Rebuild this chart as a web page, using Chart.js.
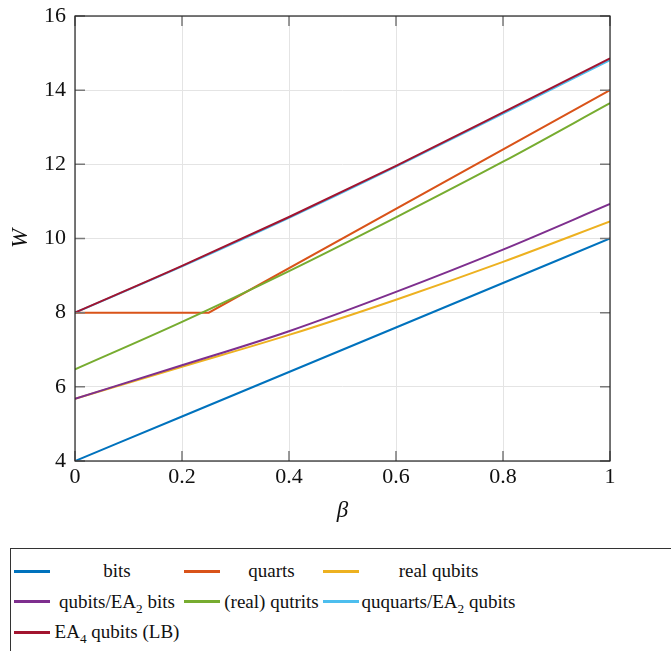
<!DOCTYPE html>
<html>
<head>
<meta charset="utf-8">
<script src="https://cdn.jsdelivr.net/npm/chart.js@4"></script>
<style>
  html, body { margin: 0; padding: 0; background: #fff; }
  #wrap { position: relative; width: 671px; height: 540px; }
  #legend {
    position: absolute; left: 10px; top: 548px; width: 720px; height: 130px;
    border: 1px solid #333; box-sizing: border-box;
    padding: 7px 0 0 3px;
    font-family: "Liberation Serif", serif; font-size: 19px; color: #111;
    display: grid; grid-template-columns: 170px 139px 195px; grid-auto-rows: 30.5px;
  }
  .item { display: flex; align-items: center; }
  .swatch { width: 36px; height: 3px; flex: none; }
  .txt { flex: 1; text-align: center; white-space: nowrap; }
  .txt sub { font-size: 70%; line-height: 0; }
</style>
</head>
<body>
<div id="wrap"><canvas id="c"></canvas></div>
<div id="legend"></div>
<script>
const beta = [0, 0.2, 0.4, 0.6, 0.8, 1];
const betaQuarts = [0, 0.25, 1];

const bits = [4, 5.2, 6.4, 7.6, 8.8, 10];
const quarts = [8, 8, 14];
const realQubits = [5.68, 6.54, 7.40, 8.35, 9.37, 10.46];
const qubitsEA2 = [5.68, 6.58, 7.50, 8.56, 9.70, 10.93];
const realQutrits = [6.47, 7.75, 9.12, 10.57, 12.07, 13.65];
const ququartsEA2 = [8, 9.25, 10.56, 11.94, 13.37, 14.81];
const ea4Qubits = [8, 9.26, 10.58, 11.96, 13.40, 14.86];

const labels = ['bits', 'quarts', 'real qubits', 'qubits/EA₂ bits', '(real) qutrits', 'ququarts/EA₂ qubits', 'EA₄ qubits (LB)'];
const colors = ['#0072BD', '#D95319', '#EDB120', '#7E2F8E', '#77AC30', '#4DBEEE', '#A2142F'];
const series = [bits, quarts, realQubits, qubitsEA2, realQutrits, ququartsEA2, ea4Qubits];

const yTicks = [4, 6, 8, 10, 12, 14, 16];
const xTicks = [0, 0.2, 0.4, 0.6, 0.8, 1];

const datasets = series.map((vals, i) => {
  const xs = vals === quarts ? betaQuarts : beta;
  return {
    label: labels[i],
    data: vals.map((v, k) => ({ x: xs[k], y: v })),
    borderColor: colors[i],
    backgroundColor: colors[i],
    borderWidth: 2,
    pointRadius: 0,
    tension: 0,
    cubicInterpolationMode: vals === quarts ? 'default' : 'monotone',
    order: series.length - i
  };
});

// box round the plot and inward tick marks on all four sides
const frame = {
  id: 'frame',
  afterDraw(chart) {
    const { ctx, chartArea: a, scales } = chart;
    ctx.save();
    ctx.strokeStyle = '#7a7a7a';
    ctx.lineWidth = 1.5;
    const len = 10;
    yTicks.forEach(v => {
      const y = scales.y.getPixelForValue(v);
      ctx.beginPath();
      ctx.moveTo(a.left, y); ctx.lineTo(a.left + len, y);
      ctx.moveTo(a.right, y); ctx.lineTo(a.right - len, y);
      ctx.stroke();
    });
    xTicks.forEach(v => {
      const x = scales.x.getPixelForValue(v);
      ctx.beginPath();
      ctx.moveTo(x, a.bottom); ctx.lineTo(x, a.bottom - len);
      ctx.moveTo(x, a.top); ctx.lineTo(x, a.top + len);
      ctx.stroke();
    });
    ctx.strokeStyle = '#222';
    ctx.lineWidth = 1.2;
    ctx.strokeRect(a.left, a.top, a.right - a.left, a.bottom - a.top);
    ctx.restore();
  }
};

const tickFont = { family: 'Liberation Serif', size: 22 };

new Chart(document.getElementById('c'), {
  type: 'line',
  data: { datasets },
  options: {
    responsive: true,
    maintainAspectRatio: false,
    animation: false,
    layout: { padding: { left: 0, right: 61, top: 16, bottom: 15 } },
    scales: {
      x: {
        type: 'linear',
        min: 0, max: 1,
        afterBuildTicks: s => { s.ticks = xTicks.map(v => ({ value: v })); },
        afterFit: s => { s.height = 64; s.paddingLeft = 0; s.paddingRight = 0; },
        ticks: {
          font: tickFont, color: '#111', padding: 3,
          callback: v => String(v)
        },
        grid: { color: '#e4e4e4', lineWidth: 1, drawTicks: false },
        border: { display: false },
        title: {
          display: true, text: 'β', color: '#111',
          font: { family: 'Liberation Serif', size: 23, style: 'italic' },
          padding: { top: 6, bottom: 0 }
        }
      },
      y: {
        min: 4, max: 16,
        afterBuildTicks: s => { s.ticks = yTicks.map(v => ({ value: v })); },
        afterFit: s => { s.width = 75; s.paddingTop = 0; s.paddingBottom = 0; },
        ticks: { font: tickFont, color: '#111', padding: 9 },
        grid: { color: '#e4e4e4', lineWidth: 1, drawTicks: false },
        border: { display: false },
        title: {
          display: true, text: 'W', color: '#111',
          font: { family: 'Liberation Serif', size: 23, style: 'italic' },
          padding: { top: 7, bottom: 0 }
        }
      }
    },
    plugins: {
      legend: { display: false },
      tooltip: { enabled: false }
    }
  },
  plugins: [frame]
});

// legend below the chart
const legendEl = document.getElementById('legend');
labels.forEach((lab, i) => {
  const item = document.createElement('div');
  item.className = 'item';
  const sw = document.createElement('span');
  sw.className = 'swatch';
  sw.style.background = colors[i];
  const t = document.createElement('span');
  t.className = 'txt';
  t.innerHTML = lab.replace('₂', '<sub>2</sub>').replace('₄', '<sub>4</sub>');
  item.appendChild(sw);
  item.appendChild(t);
  legendEl.appendChild(item);
});
</script>
</body>
</html>
